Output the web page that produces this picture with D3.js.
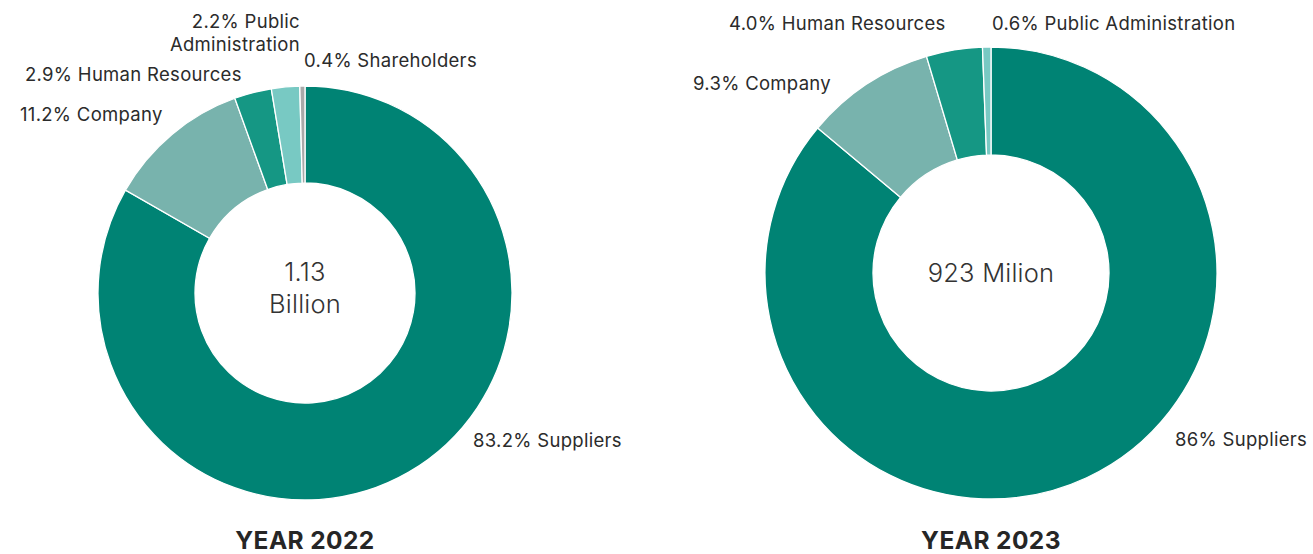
<!DOCTYPE html>
<html>
<head>
<meta charset="utf-8">
<script src="https://cdn.jsdelivr.net/npm/d3@7"></script>
<style>
  html, body { margin: 0; padding: 0; background: #fff; }
  svg { display: block; font-family: Inter, "Noto Sans", sans-serif; }
</style>
</head>
<body>
<svg id="chart" width="1313" height="554"></svg>
<script>
// data
const categories2022 = ["Suppliers", "Company", "Human Resources", "Public Administration", "Shareholders"];
const values2022 = [83.2, 11.2, 2.9, 2.2, 0.4];
const categories2023 = ["Suppliers", "Company", "Human Resources", "Public Administration"];
const values2023 = [86, 9.3, 4.0, 0.6];
const totals = ["1.13\nBillion", "923 Milion"];
const years = ["YEAR 2022", "YEAR 2023"];

const colourMap = {
    "Suppliers": "#008374",
    "Company": "#78b3ad",
    "Human Resources": "#159784",
    "Public Administration": "#78c9c3",
    "Shareholders": "#a9a9a9"
};

// label placement per chart (x, y relative to chart centre, anchor, lines)
const labelLayout = [
    {
        "Suppliers": { dx: 168, dy: 154, anchor: "start", lines: v => [`${v}% Suppliers`] },
        "Company": { dx: -285, dy: -172, anchor: "start", lines: v => [`${v}% Company`] },
        "Human Resources": { dx: -280, dy: -212, anchor: "start", lines: v => [`${v}% Human Resources`] },
        "Public Administration": { dx: -5, dy: -265, anchor: "end", lines: v => [`${v}% Public`, "Administration"] },
        "Shareholders": { dx: -1, dy: -226, anchor: "start", lines: v => [`${v}% Shareholders`] }
    },
    {
        "Suppliers": { dx: 184, dy: 173, anchor: "start", lines: v => [`${v}% Suppliers`] },
        "Company": { dx: -298, dy: -183, anchor: "start", lines: v => [`${v.toFixed(1)}% Company`] },
        "Human Resources": { dx: -262, dy: -243, anchor: "start", lines: v => [`${v.toFixed(1)}% Human Resources`] },
        "Public Administration": { dx: 1, dy: -243, anchor: "start", lines: v => [`${v.toFixed(1)}% Public Administration`] }
    }
];

const charts = [
    { cats: categories2022, vals: values2022, cx: 305, cy: 293, outer: 207, inner: 110 },
    { cats: categories2023, vals: values2023, cx: 991, cy: 273, outer: 226, inner: 118 }
];

const svg = d3.select("#chart");
const pie = d3.pie().sort(null).value(d => d.value);

charts.forEach((c, i) => {
    const rows = c.cats.map((name, j) => ({ name, value: c.vals[j] }));
    const arc = d3.arc().innerRadius(c.inner).outerRadius(c.outer);
    const g = svg.append("g").attr("transform", `translate(${c.cx},${c.cy})`);

    g.selectAll(".slice")
        .data(pie(rows))
        .join("path")
        .attr("class", "slice")
        .attr("d", arc)
        .attr("fill", d => colourMap[d.data.name])
        .attr("stroke", "#fff")
        .attr("stroke-width", 1.3);

    // centre total
    const lines = totals[i].split("\n");
    const shift = 9 - (lines.length - 1) * 5;
    g.append("text")
        .attr("text-anchor", "middle")
        .attr("font-size", 25.5)
        .attr("font-weight", 300)
        .attr("letter-spacing", 0.2)
        .attr("fill", "#333")
        .selectAll("tspan")
        .data(lines)
        .join("tspan")
        .attr("x", 0)
        .attr("y", (d, k) => (k - (lines.length - 1) / 2) * 32 + shift)
        .text(d => d);

    // slice labels
    rows.forEach(r => {
        const L = labelLayout[i][r.name];
        g.append("text")
            .attr("text-anchor", L.anchor)
            .attr("font-size", 18.5)
            .attr("letter-spacing", 0.3)
            .attr("fill", "#2b2b2b")
            .selectAll("tspan")
            .data(L.lines(r.value))
            .join("tspan")
            .attr("x", L.dx)
            .attr("y", (d, k) => L.dy + k * 23)
            .text(d => d);
    });

    // year caption
    svg.append("text")
        .attr("x", c.cx)
        .attr("y", 549)
        .attr("text-anchor", "middle")
        .attr("font-size", 24.5)
        .attr("font-weight", 700)
        .attr("letter-spacing", 0.4)
        .attr("fill", "#262626")
        .text(years[i]);
});
</script>
</body>
</html>
